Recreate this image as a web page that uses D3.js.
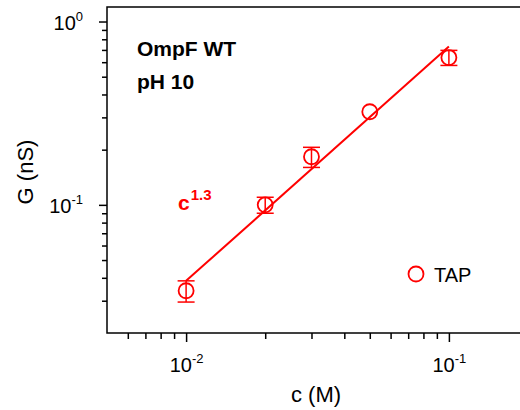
<!DOCTYPE html>
<html>
<head>
<meta charset="utf-8">
<script src="https://cdn.jsdelivr.net/npm/d3@7"></script>
<style>
  body { margin: 0; background: #fff; }
  text { font-family: "Liberation Sans", Arial, sans-serif; }
</style>
</head>
<body>
<script>
// metrics
const width = 520, height = 410;
const plotLeft = 107, plotRight = 528, plotTop = 7, plotBottom = 333;
const red = '#ff0000';

// data
const conc = [0.01, 0.02, 0.03, 0.05, 0.1];
const cond = [0.034, 0.1, 0.183, 0.322, 0.636];
const condErr = [0.0045, 0.01, 0.023, 0, 0.06];
const fitConc = [0.01, 0.1];
const fitCond = [0.0385, 0.73];
const xMajor = [0.01, 0.1], xMajorExp = ['-2', '-1'];
const xMinor = [0.006, 0.007, 0.008, 0.009, 0.02, 0.03, 0.04, 0.05, 0.06, 0.07, 0.08, 0.09, 0.2];
const yMajor = [0.1, 1], yMajorExp = ['-1', '0'];
const yMinor = [0.03, 0.04, 0.05, 0.06, 0.07, 0.08, 0.09, 0.2, 0.3, 0.4, 0.5, 0.6, 0.7, 0.8, 0.9];

const svg = d3.select('body').append('svg')
    .attr('width', width)
    .attr('height', height);

// scales
const x = d3.scaleLog().domain([0.005, 0.2]).range([plotLeft, plotRight]);
const y = d3.scaleLog().domain([0.02, 1.2]).range([plotBottom, plotTop]);

// frame
svg.append('rect')
    .attr('x', plotLeft).attr('y', plotTop)
    .attr('width', plotRight - plotLeft).attr('height', plotBottom - plotTop)
    .attr('fill', 'none').attr('stroke', '#000').attr('stroke-width', 1.5);

// axes
const styleAxis = g => {
    g.select('.domain').remove();
    g.selectAll('line').attr('stroke', '#000').attr('stroke-width', 1.5);
};
svg.append('g')
    .attr('transform', `translate(0,${plotBottom})`)
    .call(d3.axisBottom(x).tickValues(xMinor).tickSize(6).tickFormat(''))
    .call(styleAxis);
const xg = svg.append('g')
    .attr('transform', `translate(0,${plotBottom})`)
    .call(d3.axisBottom(x).tickValues(xMajor).tickSize(9).tickFormat(''))
    .call(styleAxis);
xg.selectAll('.tick').append('text')
    .attr('y', 39).attr('fill', '#000').attr('text-anchor', 'middle')
    .style('font-size', '20px')
    .each(function(d, i) {
        const t = d3.select(this);
        t.append('tspan').text('10');
        t.append('tspan').attr('dy', -9).style('font-size', '13px').text(xMajorExp[i]);
    });

svg.append('g')
    .attr('transform', `translate(${plotLeft},0)`)
    .call(d3.axisLeft(y).tickValues(yMinor).tickSize(5).tickFormat(''))
    .call(styleAxis);
const yg = svg.append('g')
    .attr('transform', `translate(${plotLeft},0)`)
    .call(d3.axisLeft(y).tickValues(yMajor).tickSize(8).tickFormat(''))
    .call(styleAxis);
yg.selectAll('.tick').append('text')
    .attr('x', -24).attr('y', 8).attr('fill', '#000').attr('text-anchor', 'end')
    .style('font-size', '20px')
    .each(function(d, i) {
        const t = d3.select(this);
        t.append('tspan').text('10');
        t.append('tspan').attr('dy', -9).style('font-size', '13px').text(yMajorExp[i]);
    });

// axis titles
svg.append('text')
    .attr('x', 316).attr('y', 402).attr('text-anchor', 'middle')
    .style('font-size', '22px').text('c (M)');
svg.append('text')
    .attr('transform', 'translate(33,172) rotate(-90)').attr('text-anchor', 'middle')
    .style('font-size', '22px').text('G (nS)');

// fit line
svg.append('path')
    .datum(fitConc.map((c, i) => [c, fitCond[i]]))
    .attr('d', d3.line().x(d => x(d[0])).y(d => y(d[1])))
    .attr('fill', 'none').attr('stroke', red).attr('stroke-width', 2);

// error bars
const pts = conc.map((c, i) => ({c, g: cond[i], e: condErr[i]}));
const eb = svg.append('g').attr('stroke', red).attr('stroke-width', 1.5).attr('fill', 'none');
pts.filter(d => d.e > 0).forEach(d => {
    const cx = x(d.c), y0 = y(d.g + d.e), y1 = y(d.g - d.e);
    eb.append('line').attr('x1', cx).attr('x2', cx).attr('y1', y0).attr('y2', y1);
    eb.append('line').attr('x1', cx - 8.5).attr('x2', cx + 8.5).attr('y1', y0).attr('y2', y0);
    eb.append('line').attr('x1', cx - 8.5).attr('x2', cx + 8.5).attr('y1', y1).attr('y2', y1);
});

// points
svg.append('g').selectAll('circle')
    .data(pts).join('circle')
    .attr('cx', d => x(d.c)).attr('cy', d => y(d.g)).attr('r', 7.5)
    .attr('fill', 'none').attr('stroke', red).attr('stroke-width', 1.8);

// annotations
svg.append('text').attr('x', 137).attr('y', 56)
    .style('font-size', '21px').style('font-weight', 'bold').text('OmpF WT');
svg.append('text').attr('x', 137).attr('y', 89)
    .style('font-size', '21px').style('font-weight', 'bold').text('pH 10');
const pw = svg.append('text').attr('x', 178).attr('y', 210).attr('fill', red)
    .style('font-size', '21px').style('font-weight', 'bold');
pw.append('tspan').text('c');
pw.append('tspan').attr('dx', 1).attr('dy', -10).style('font-size', '15px').text('1.3');

// legend
svg.append('circle').attr('cx', 416).attr('cy', 274).attr('r', 7.5)
    .attr('fill', 'none').attr('stroke', red).attr('stroke-width', 1.8);
svg.append('text').attr('x', 434).attr('y', 282)
    .style('font-size', '20px').text('TAP');
</script>
</body>
</html>
